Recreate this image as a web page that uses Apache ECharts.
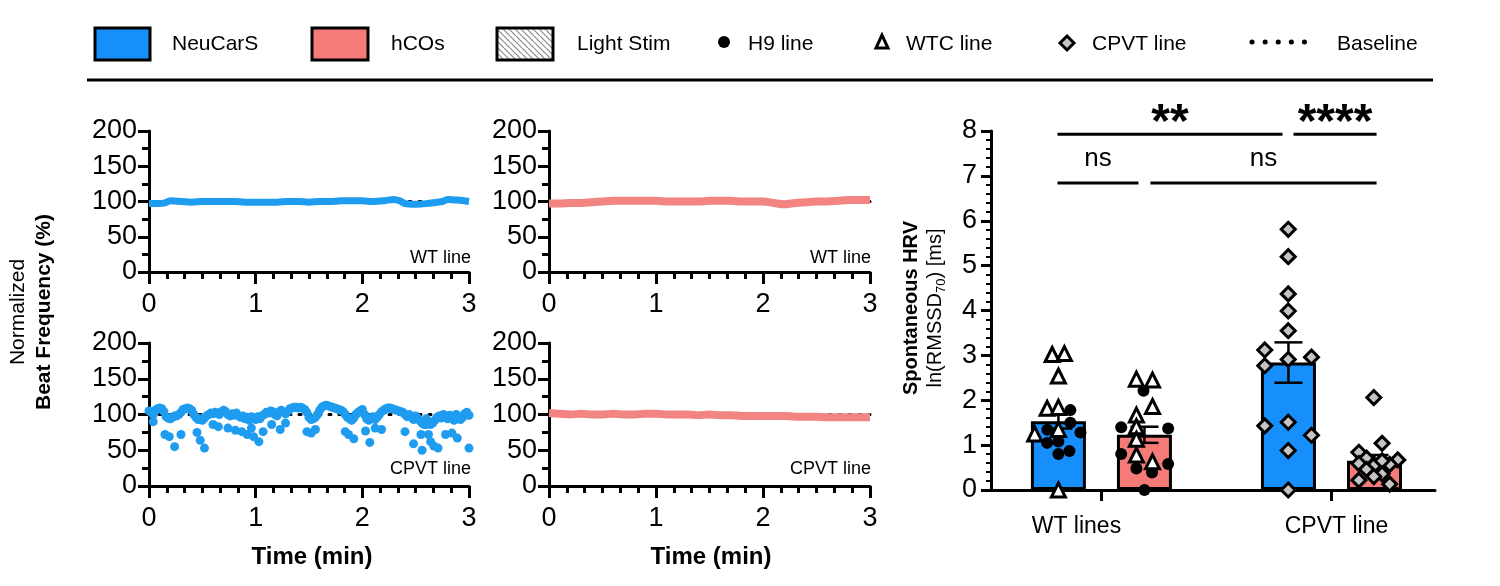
<!DOCTYPE html>
<html>
<head>
<meta charset="utf-8">
<script src="https://cdn.jsdelivr.net/npm/echarts@6/dist/echarts.min.js"></script>
<style>
  html, body { margin: 0; padding: 0; background: #fff; }
  #chart { width: 1500px; height: 586px; }
</style>
</head>
<body>
<div id="chart"></div>
<script>
/* jshint esversion: 6 */
var fontFamily = '"Liberation Sans", Arial, Helvetica, sans-serif';
var color_blue = '#168FFC';
var color_trace_blue = '#1E9CF0';
var color_red = '#F47B77';
var color_trace_red = '#F28482';
var color_diamond = '#C4C4C4';

// =====================================================================================================================
// DONNEES : traces de frequence (temps en min, frequence normalisee en %)

var wtNeuBeat = [[0, 97], [0.1, 97], [0.15, 98], [0.2, 101], [0.3, 100], [0.4, 99], [0.5, 100], [0.6, 100], [0.7, 100],
  [0.8, 100], [0.9, 99], [1.0, 99], [1.1, 99], [1.2, 99], [1.3, 100], [1.4, 100], [1.5, 99], [1.6, 100], [1.7, 100],
  [1.8, 101], [1.9, 101], [2.0, 101], [2.1, 100], [2.2, 101], [2.3, 103], [2.35, 101], [2.4, 97], [2.5, 96], [2.6, 97],
  [2.7, 99], [2.75, 100], [2.8, 103], [2.9, 102], [3.0, 100]];

var wtHcoBeat = [[0, 97], [0.1, 97], [0.2, 98], [0.3, 98], [0.4, 99], [0.5, 100], [0.6, 101], [0.7, 101], [0.8, 101],
  [0.9, 101], [1.0, 101], [1.1, 100], [1.2, 100], [1.3, 100], [1.4, 100], [1.5, 101], [1.6, 101], [1.7, 101], [1.8, 100],
  [1.9, 100], [2.0, 100], [2.1, 98], [2.2, 96], [2.3, 98], [2.4, 99], [2.5, 100], [2.6, 100], [2.7, 101], [2.8, 102],
  [2.9, 102], [3.0, 102]];

var cpvtNeuBeat = [[0.00, 105], [0.02, 103], [0.04, 100], [0.06, 106], [0.08, 108], [0.10, 109], [0.12, 108], [0.14, 104],
  [0.16, 97], [0.18, 95], [0.20, 94], [0.22, 96], [0.24, 98], [0.26, 98], [0.28, 100], [0.30, 103], [0.32, 107], [0.34, 108],
  [0.36, 109], [0.38, 108], [0.40, 106], [0.42, 100], [0.44, 96], [0.46, 93], [0.48, 94], [0.50, 92], [0.52, 95], [0.54, 98],
  [0.56, 100], [0.58, 102], [0.60, 101], [0.62, 103], [0.64, 102], [0.66, 100], [0.68, 104], [0.70, 106], [0.72, 104],
  [0.74, 100], [0.76, 98], [0.78, 101], [0.80, 99], [0.82, 102], [0.84, 98], [0.86, 96], [0.88, 98], [0.90, 94], [0.92, 96],
  [0.94, 92], [0.96, 97], [0.98, 95], [1.00, 93], [1.02, 97], [1.04, 94], [1.06, 98], [1.08, 100], [1.10, 103], [1.12, 102],
  [1.14, 105], [1.16, 104], [1.18, 100], [1.20, 98], [1.22, 104], [1.24, 106], [1.26, 103], [1.28, 101], [1.30, 104],
  [1.32, 108], [1.34, 109], [1.36, 110], [1.38, 110], [1.40, 109], [1.42, 110], [1.44, 109], [1.46, 107], [1.48, 103],
  [1.50, 96], [1.52, 93], [1.54, 94], [1.56, 96], [1.58, 100], [1.60, 106], [1.62, 110], [1.64, 112], [1.66, 113],
  [1.68, 112], [1.70, 111], [1.72, 110], [1.74, 109], [1.76, 108], [1.78, 107], [1.80, 106], [1.82, 104], [1.84, 100],
  [1.86, 96], [1.88, 94], [1.90, 92], [1.92, 95], [1.94, 100], [1.96, 103], [1.98, 105], [2.00, 107], [2.02, 100],
  [2.04, 94], [2.06, 92], [2.08, 95], [2.10, 97], [2.12, 93], [2.14, 96], [2.16, 100], [2.18, 104], [2.20, 106], [2.22, 108],
  [2.24, 109], [2.26, 109], [2.28, 108], [2.30, 107], [2.32, 106], [2.34, 105], [2.36, 104], [2.38, 103], [2.40, 100],
  [2.42, 97], [2.44, 100], [2.46, 96], [2.48, 93], [2.50, 98], [2.52, 95], [2.54, 91], [2.56, 88], [2.58, 86], [2.60, 94],
  [2.62, 90], [2.64, 86], [2.66, 88], [2.68, 92], [2.70, 96], [2.72, 98], [2.74, 95], [2.76, 100], [2.78, 98], [2.80, 94],
  [2.82, 99], [2.84, 96], [2.86, 92], [2.88, 100], [2.90, 97], [2.92, 93], [2.94, 96], [2.96, 101], [2.98, 103], [3.00, 99],
  // battements irreguliers
  [0.04, 90], [0.15, 72], [0.19, 69], [0.24, 55], [0.30, 72], [0.45, 75], [0.48, 64], [0.52, 53], [0.60, 86], [0.65, 83],
  [0.74, 81], [0.81, 78], [0.87, 76], [0.92, 72], [0.96, 81], [0.98, 69], [1.03, 62], [1.07, 76], [1.15, 86], [1.23, 79],
  [1.28, 88], [1.48, 76], [1.52, 74], [1.56, 79], [1.84, 76], [1.87, 72], [1.92, 66], [2.03, 77], [2.07, 61], [2.12, 81],
  [2.18, 79], [2.40, 76], [2.48, 59], [2.55, 72], [2.56, 50], [2.60, 86], [2.62, 72], [2.64, 62], [2.67, 56], [2.71, 53],
  [2.78, 72], [2.84, 74], [2.89, 67], [3.00, 53]];

var cpvtHcoBeat = [[0, 102], [0.1, 101], [0.2, 100], [0.3, 101], [0.4, 100], [0.5, 100], [0.6, 101], [0.7, 100], [0.8, 100],
  [0.9, 101], [1.0, 101], [1.1, 100], [1.2, 100], [1.3, 100], [1.4, 99], [1.5, 100], [1.6, 99], [1.7, 99], [1.8, 98],
  [1.9, 98], [2.0, 98], [2.1, 98], [2.2, 98], [2.3, 97], [2.4, 97], [2.5, 97], [2.6, 96], [2.7, 96], [2.8, 96], [2.9, 96],
  [3.0, 96]];

var baseline = [[0, 100], [3, 100]];

// =====================================================================================================================
// DONNEES : HRV spontanee ln(RMSSD70)

var groupNames = ['WT lines', 'CPVT line'];
var groupPos = [1, 2];
// ordre : NeuCarS WT, hCOs WT, NeuCarS CPVT, hCOs CPVT
var hrvMean = [1.53, 1.23, 2.84, 0.65];
var hrvSem = [0.16, 0.18, 0.45, 0.13];

var wtNeuH9 = [[0.865, 1.78], [0.865, 1.50], [0.765, 1.34], [0.909, 1.28], [0.764, 1.05], [0.813, 1.08], [0.813, 0.80], [0.861, 0.87]];
var wtNeuWTC = [[0.786, 3.02], [0.839, 3.04], [0.813, 2.54], [0.764, 1.82], [0.813, 1.84], [0.813, 1.35], [0.710, 1.25], [0.813, 0.0]];
var wtHcoH9 = [[1.183, 2.21], [1.086, 1.40], [1.290, 1.37], [1.086, 0.80], [1.290, 0.58], [1.152, 0.48], [1.220, 0.39], [1.187, 0.0]];
var wtHcoWTC = [[1.152, 2.47], [1.222, 2.45], [1.222, 1.86], [1.152, 1.67], [1.152, 1.41], [1.152, 1.13], [1.152, 0.78], [1.222, 0.63]];
var cpvtNeu = [[1.812, 5.81], [1.812, 5.20], [1.812, 4.37], [1.812, 3.99], [1.812, 3.55], [1.710, 3.12], [1.812, 2.91],
  [1.913, 2.96], [1.710, 2.77], [1.710, 1.43], [1.812, 1.51], [1.913, 1.22], [1.812, 0.88], [1.812, 0.0]];
var cpvtHco = [[2.184, 2.06], [2.220, 1.04], [2.119, 0.84], [2.152, 0.71], [2.288, 0.67], [2.253, 0.57], [2.184, 0.54],
  [2.220, 0.65], [2.119, 0.59], [2.152, 0.46], [2.220, 0.36], [2.184, 0.30], [2.119, 0.22], [2.253, 0.13]];

// comparaisons : [x debut, x fin, niveau]
var sigBrackets = [[0.809, 1.787, 7.93], [1.835, 2.196, 7.93], [0.809, 1.161, 6.84], [1.213, 2.196, 6.84]];
var sigLabels = ['**', '****', 'ns', 'ns'];

// =====================================================================================================================
// AXES

var barShift = 0.187;
var tickFont = 27;

function panelX(gridIndex) {
  'use strict';
  return {
    type: 'value', gridIndex: gridIndex, min: 0, max: 3, interval: 1,
    axisLine: {show: true, onZero: false, lineStyle: {color: '#000', width: 3}},
    axisTick: {show: true, length: 12, lineStyle: {color: '#000', width: 3}},
    minorTick: {show: true, splitNumber: 6, length: 7, lineStyle: {color: '#000', width: 3}},
    splitLine: {show: false},
    axisLabel: {color: '#000', fontSize: tickFont, fontFamily: fontFamily, margin: 19}
  };
}

function panelY(gridIndex) {
  'use strict';
  return {
    type: 'value', gridIndex: gridIndex, min: 0, max: 200, interval: 50,
    axisLine: {show: true, onZero: false, lineStyle: {color: '#000', width: 3}},
    axisTick: {show: true, length: 11, lineStyle: {color: '#000', width: 3}},
    minorTick: {show: true, splitNumber: 2, length: 7, lineStyle: {color: '#000', width: 3}},
    splitLine: {show: false},
    axisLabel: {color: '#000', fontSize: tickFont, fontFamily: fontFamily, margin: 12}
  };
}

function traceLine(idx, data, color, width) {
  'use strict';
  return {
    type: 'line', xAxisIndex: idx, yAxisIndex: idx, data: data, showSymbol: false, smooth: 0.3,
    lineStyle: {color: color, width: width}, z: 3, silent: true
  };
}

function baseLine(idx) {
  'use strict';
  return {
    type: 'line', xAxisIndex: idx, yAxisIndex: idx, data: baseline, showSymbol: false,
    lineStyle: {color: '#000', width: 3, type: [2, 8], cap: 'round'}, z: 2, silent: true
  };
}

function dots(data, symbol, size, fill) {
  'use strict';
  return {
    type: 'scatter', xAxisIndex: 4, yAxisIndex: 4, data: data, symbol: symbol, symbolSize: size,
    itemStyle: {color: fill, borderColor: '#000', borderWidth: symbol === 'circle' ? 0 : 3, opacity: 1}, z: 6, silent: true
  };
}

var barColors = [color_blue, color_red, color_blue, color_red];
var barData = hrvMean.map(function (m, i) {
  var x = groupPos[Math.floor(i / 2)] + (i % 2 === 0 ? -barShift : barShift);
  return {value: [x, m], itemStyle: {color: barColors[i]}};
});
var errData = hrvMean.map(function (m, i) {
  var x = groupPos[Math.floor(i / 2)] + (i % 2 === 0 ? -barShift : barShift);
  return [x, m - hrvSem[i], m + hrvSem[i]];
});

// motif hachure pour la legende
var hatch = document.createElement('canvas');
hatch.width = 6; hatch.height = 6;
var hctx = hatch.getContext('2d');
hctx.strokeStyle = '#8a8a8a'; hctx.lineWidth = 1.2;
hctx.beginPath();
for (var k = -6; k <= 6; k += 6) { hctx.moveTo(k, 0); hctx.lineTo(k + 6, 6); }
hctx.stroke();

function txt(x, y, text, size, opts) {
  'use strict';
  opts = opts || {};
  return {
    type: 'text', x: x, y: y, rotation: opts.rot || 0, silent: true,
    style: {text: text, fill: '#000', font: (opts.bold ? 'bold ' : '') + size + 'px ' + fontFamily,
      align: opts.align || 'left', verticalAlign: 'middle', rich: opts.rich}
  };
}

var legendY = 44;
var graphics = [
  {type: 'rect', shape: {x: 95, y: 28, width: 55, height: 32}, style: {fill: color_blue, stroke: '#000', lineWidth: 3}},
  txt(172, legendY, 'NeuCarS', 21),
  {type: 'rect', shape: {x: 312, y: 28, width: 56, height: 32}, style: {fill: color_red, stroke: '#000', lineWidth: 3}},
  txt(391, legendY, 'hCOs', 21),
  {type: 'rect', shape: {x: 497, y: 28, width: 56, height: 32}, style: {fill: {image: hatch, repeat: 'repeat'}, stroke: '#000', lineWidth: 3}},
  txt(577, legendY, 'Light Stim', 21),
  {type: 'circle', shape: {cx: 724, cy: 42, r: 6}, style: {fill: '#000'}},
  txt(748, legendY, 'H9 line', 21),
  {type: 'polygon', shape: {points: [[882, 35], [876, 48], [888, 48]]}, style: {fill: '#fff', stroke: '#000', lineWidth: 3, lineJoin: 'miter'}},
  txt(906, legendY, 'WTC line', 21),
  {type: 'polygon', shape: {points: [[1067, 36], [1074, 43], [1067, 50], [1060, 43]]}, style: {fill: color_diamond, stroke: '#000', lineWidth: 3}},
  txt(1092, legendY, 'CPVT line', 21),
  {type: 'line', shape: {x1: 1252, y1: 42, x2: 1306, y2: 42}, style: {stroke: '#000', lineWidth: 5, lineDash: [0.1, 13], lineCap: 'round'}},
  txt(1337, legendY, 'Baseline', 21),
  {type: 'line', shape: {x1: 87, y1: 80, x2: 1433, y2: 80}, style: {stroke: '#000', lineWidth: 3}},
  // titres d'axes
  txt(18, 312, 'Normalized', 21, {rot: Math.PI / 2, align: 'center'}),
  txt(44, 312, 'Beat Frequency (%)', 21, {rot: Math.PI / 2, align: 'center', bold: true}),
  txt(312, 557, 'Time (min)', 24, {align: 'center', bold: true}),
  txt(711, 557, 'Time (min)', 24, {align: 'center', bold: true}),
  txt(911, 308, 'Spontaneous HRV', 20, {rot: Math.PI / 2, align: 'center', bold: true}),
  txt(935, 308, '{n|ln(RMSSD}{s|70}{n|) [ms]}', 20, {rot: Math.PI / 2, align: 'center', rich: {
    n: {fontSize: 20, fontFamily: fontFamily, lineHeight: 26, verticalAlign: 'middle'},
    s: {fontSize: 13, fontFamily: fontFamily, lineHeight: 26, verticalAlign: 'bottom'}
  }}),
  // etiquettes des panneaux
  txt(471, 258, 'WT line', 18, {align: 'right'}),
  txt(871, 258, 'WT line', 18, {align: 'right'}),
  txt(471, 469, 'CPVT line', 18, {align: 'right'}),
  txt(871, 469, 'CPVT line', 18, {align: 'right'})
];

var chart = echarts.init(document.getElementById('chart'), null, {renderer: 'canvas'});
var option = {
  animation: false,
  backgroundColor: '#fff',
  textStyle: {fontFamily: fontFamily},
  grid: [
    {left: 149, top: 131, width: 320, height: 141, outerBoundsMode: 'none'},
    {left: 549, top: 131, width: 321, height: 141, outerBoundsMode: 'none'},
    {left: 149, top: 343, width: 320, height: 143, outerBoundsMode: 'none'},
    {left: 549, top: 343, width: 321, height: 143, outerBoundsMode: 'none'},
    {left: 991, top: 131, width: 444, height: 359, outerBoundsMode: 'none'}
  ],
  xAxis: [panelX(0), panelX(1), panelX(2), panelX(3), {
    type: 'value', gridIndex: 4, min: 0.52, max: 2.45,
    axisLine: {show: true, onZero: false, lineStyle: {color: '#000', width: 3}},
    axisTick: {show: true, length: 11, customValues: groupPos, lineStyle: {color: '#000', width: 3}},
    splitLine: {show: false},
    axisLabel: {
      customValues: groupPos, margin: 25, color: '#000',
      formatter: function (v) { return v < 1.5 ? '{a|' + groupNames[0] + '}' : '{b|' + groupNames[1] + '}'; },
      rich: {
        a: {fontSize: 23, fontFamily: fontFamily, color: '#000', padding: [0, 50, 0, 0]},
        b: {fontSize: 23, fontFamily: fontFamily, color: '#000', padding: [0, 0, 0, 10]}
      }
    }
  }],
  yAxis: [panelY(0), panelY(1), panelY(2), panelY(3), {
    type: 'value', gridIndex: 4, min: 0, max: 8, interval: 1,
    axisLine: {show: true, onZero: false, lineStyle: {color: '#000', width: 3}},
    axisTick: {show: true, length: 10, lineStyle: {color: '#000', width: 3}},
    minorTick: {show: true, splitNumber: 5, length: 5, lineStyle: {color: '#000', width: 2}},
    splitLine: {show: false},
    axisLabel: {color: '#000', fontSize: tickFont, fontFamily: fontFamily, margin: 14}
  }],
  graphic: graphics,
  series: [
    baseLine(0), baseLine(1), baseLine(2), baseLine(3),
    traceLine(0, wtNeuBeat, color_trace_blue, 7),
    traceLine(1, wtHcoBeat, color_trace_red, 8),
    {
      type: 'scatter', xAxisIndex: 2, yAxisIndex: 2, data: cpvtNeuBeat, symbolSize: 9,
      itemStyle: {color: color_trace_blue, opacity: 1}, z: 3, silent: true
    },
    traceLine(3, cpvtHcoBeat, color_trace_red, 8),
    {
      type: 'bar', xAxisIndex: 4, yAxisIndex: 4, data: barData, barWidth: 55,
      itemStyle: {borderColor: '#000', borderWidth: 3}, z: 2, silent: true
    },
    {
      type: 'custom', xAxisIndex: 4, yAxisIndex: 4, data: errData, z: 4, silent: true,
      renderItem: function (params, api) {
        var x = api.value(0);
        var lo = api.coord([x, api.value(1)]);
        var hi = api.coord([x, api.value(2)]);
        var half = 14;
        var st = {stroke: '#000', lineWidth: 2.5};
        return {type: 'group', children: [
          {type: 'line', shape: {x1: lo[0], y1: lo[1], x2: hi[0], y2: hi[1]}, style: st},
          {type: 'line', shape: {x1: lo[0] - half, y1: lo[1], x2: lo[0] + half, y2: lo[1]}, style: st},
          {type: 'line', shape: {x1: hi[0] - half, y1: hi[1], x2: hi[0] + half, y2: hi[1]}, style: st}
        ]};
      }
    },
    dots(wtNeuH9, 'circle', 12, '#000'),
    dots(wtNeuWTC, 'triangle', 14, '#fff'),
    dots(wtHcoH9, 'circle', 12, '#000'),
    dots(wtHcoWTC, 'triangle', 14, '#fff'),
    dots(cpvtNeu, 'diamond', 14, color_diamond),
    dots(cpvtHco, 'diamond', 14, color_diamond),
    {
      type: 'custom', xAxisIndex: 4, yAxisIndex: 4, data: sigBrackets, z: 5, clip: false, silent: true,
      renderItem: function (params, api) {
        var a = api.coord([api.value(0), api.value(2)]);
        var b = api.coord([api.value(1), api.value(2)]);
        var lab = sigLabels[params.dataIndex];
        var star = lab.charAt(0) === '*';
        return {type: 'group', children: [
          {type: 'line', shape: {x1: a[0], y1: a[1], x2: b[0], y2: b[1]}, style: {stroke: '#000', lineWidth: 3}},
          {type: 'text', x: (a[0] + b[0]) / 2, y: star ? a[1] + 14 : a[1] - 11,
            style: {text: lab, fill: '#000', font: star ? 'bold 48px ' + fontFamily : '26px ' + fontFamily,
              align: 'center', verticalAlign: 'bottom'}}
        ]};
      }
    }
  ]
};

option && chart.setOption(option);
</script>
</body>
</html>
